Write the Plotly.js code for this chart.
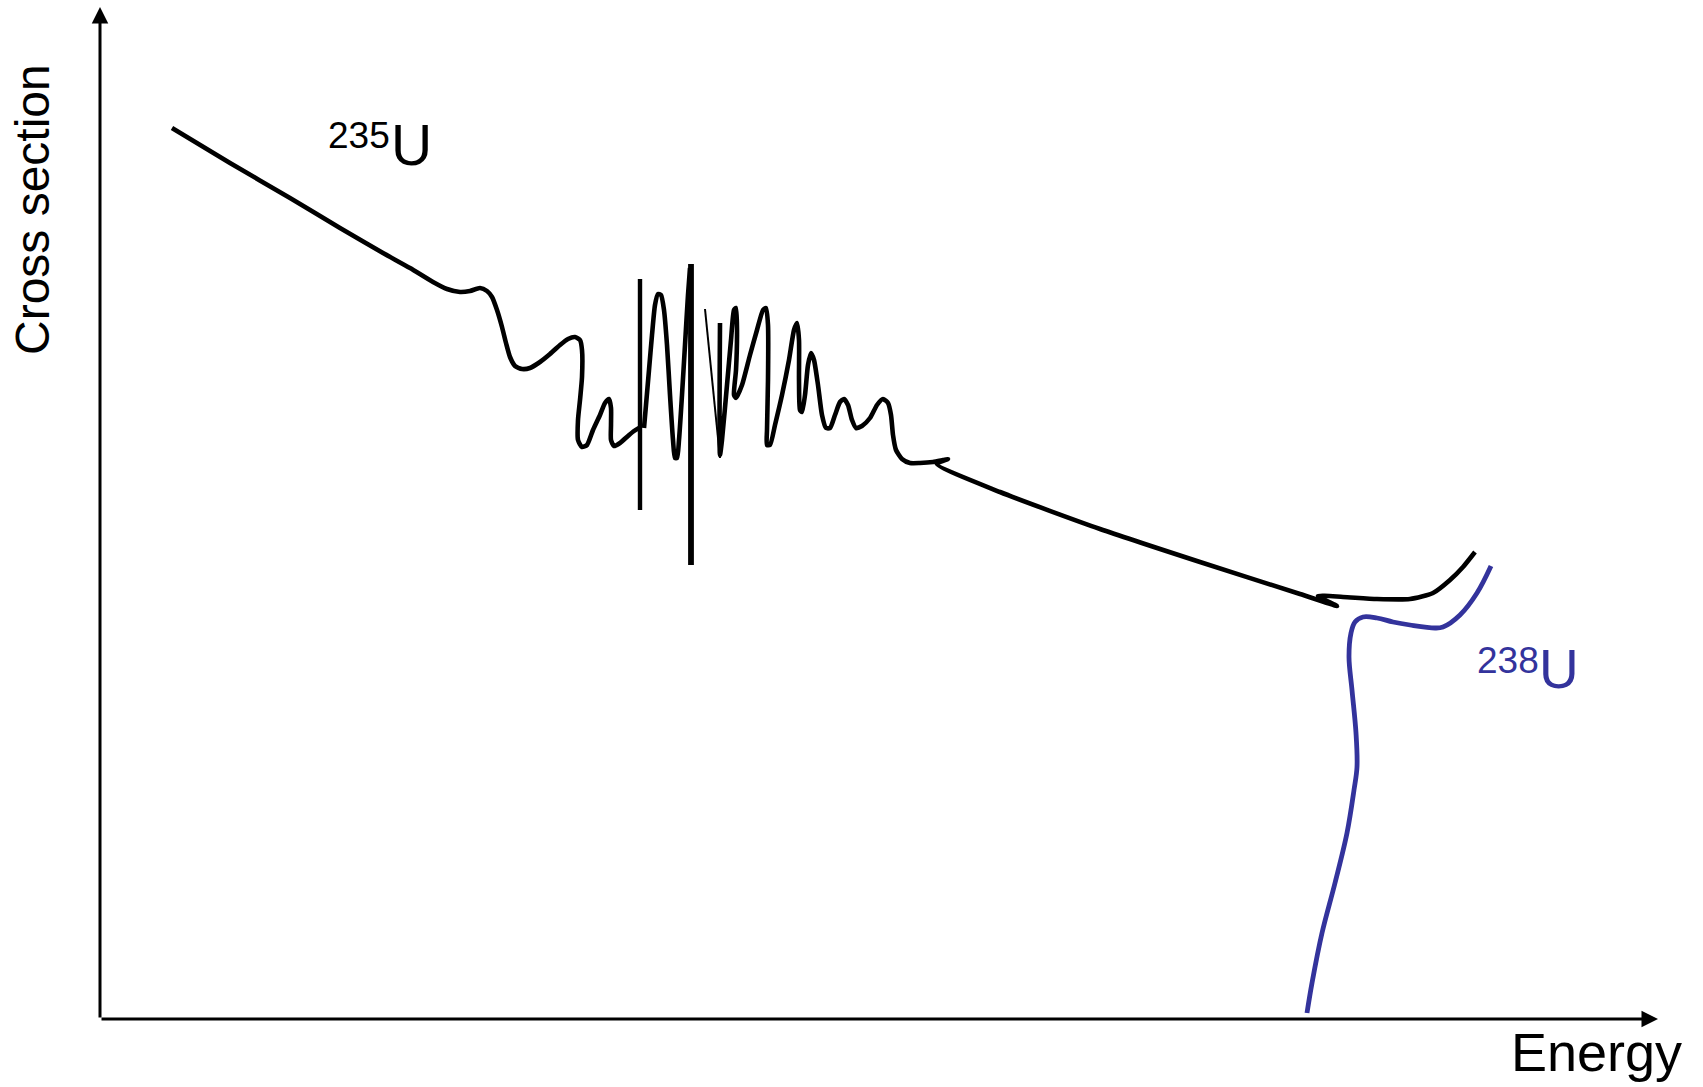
<!DOCTYPE html>
<html>
<head>
<meta charset="utf-8">
<script src="https://cdn.plot.ly/plotly-3.0.1.min.js"></script>
<style>html,body{margin:0;padding:0;background:#fff;}#chart{width:1703px;height:1087px;}</style>
</head>
<body>
<div id="chart"></div>
<script>
// 235U cross section (arbitrary units): smooth 1/v part + first resonances
const u235SmoothEnergy = [72,130,190,240,283,310,333,347,360,370,380,387,392,397,402,406,410,415,422,430,440,450,460,468,475,480,482,482,480,478,478,482,487,493,500,505,509,511,511,511,514,520,528,534,539];
const u235SmoothSigma  = [891,856,821,791,766,751,737,730,727,728,731,728,722,709,692,676,662,653,650,651,657,665,674,680,682,679,669,642,619,599,579,572,574,589,604,616,620,611,594,579,573,576,583,588,591];

// 235U sharp resonance spikes
const u235Spike1Energy = [540,540];
const u235Spike1Sigma  = [740,509];
const u235WaveEnergy = [544,546,549,552,555,558,561,564,567,570,573,575,577,579,582,585,588,590];
const u235WaveSigma  = [591,614,649,684,714,725,724,709,674,624,579,561,561,579,624,674,724,751];
const u235Spike2Energy = [591,591];
const u235Spike2Sigma  = [755,454];
const u235Spike3Energy = [605,620];
const u235Spike3Sigma  = [710,561];

// 235U upper resonances, unresolved region and fast region
const u235FastEnergy = [620,620,622,627,631,634,636,637,636,634,636,642,650,657,663,666,668,668,667,667,670,675,682,689,694,697,699,699,700,702,705,708,711,714,718,722,726,730,735,740,744,748,752,756,762,770,777,783,788,791,793,796,802,810,820,833,843,848,837,900,1000,1100,1200,1237,1218,1243,1277,1310,1333,1350,1363,1375];
const u235FastSigma  = [696,564,579,634,679,709,711,689,649,624,621,634,664,689,709,711,694,639,589,574,574,594,624,659,689,696,679,639,609,607,624,654,666,659,634,604,591,591,604,617,620,614,599,591,593,601,614,620,616,604,584,569,560,556,556,557,559,560,555,527,490,457,425,413,423,422,420,420,426,439,452,467];

// 238U (threshold fission) cross section
const u238Energy = [1391,1377,1360,1343,1335,1310,1293,1277,1263,1255,1251,1249,1252,1256,1257,1254,1247,1235,1222,1212,1207];
const u238Sigma  = [453,426,404,392,391,394,397,401,402,397,386,362,329,286,252,229,186,136,86,36,6];

const axisLabels = {x: 'Energy', y: 'Cross section'};
const isotopeLabels = {u235: ['235','U'], u238: ['238','U']};

const black = '#000000';
const blue = '#33339c';
const XR = 1603, YR = 1019;

function tr(x, y, w, col, shape, sm) {
  return {x: x, y: y, type: 'scatter', mode: 'lines', hoverinfo: 'skip',
    line: {color: col, width: w, shape: shape || 'linear', smoothing: sm || 0.6}};
}

const traces = [
  tr(u235SmoothEnergy, u235SmoothSigma, 4.6, black, 'spline'),
  tr(u235Spike1Energy, u235Spike1Sigma, 4.4, black),
  tr(u235WaveEnergy, u235WaveSigma, 4.6, black, 'spline'),
  tr(u235Spike2Energy, u235Spike2Sigma, 5.8, black),
  tr(u235Spike3Energy, u235Spike3Sigma, 2, black),
  tr(u235FastEnergy, u235FastSigma, 4.6, black, 'spline'),
  tr(u238Energy, u238Sigma, 4.8, blue, 'spline', 1)
];

const F = 'Liberation Sans, Arial, sans-serif';
function lab(x, y, text, size, col, angle) {
  return {x: x / XR, y: y / YR, xref: 'paper', yref: 'paper', xanchor: 'center', yanchor: 'middle',
    text: text, showarrow: false, textangle: angle || 0, font: {family: F, size: size, color: col}};
}
const annotations = [
  // axes with arrow heads
  {x: 0, y: 1012, ax: 0, ay: 0, axref: 'x', ayref: 'y', xref: 'x', yref: 'y', text: '', showarrow: true,
   arrowhead: 2, arrowsize: 1.1, arrowwidth: 3, arrowcolor: black, standoff: 0},
  {x: 1558, y: 0, ax: 0, ay: 0, axref: 'x', ayref: 'y', xref: 'x', yref: 'y', text: '', showarrow: true,
   arrowhead: 2, arrowsize: 1.1, arrowwidth: 3, arrowcolor: black, standoff: 0},
  lab(1496, -33, axisLabels.x, 54, black),
  lab(-68, 809, axisLabels.y, 48, black, -90),
  lab(259, 884, isotopeLabels.u235[0], 37, black),
  lab(311.5, 874, isotopeLabels.u235[1], 57, black),
  lab(1407.5, 359, isotopeLabels.u238[0], 37, blue),
  lab(1459, 350, isotopeLabels.u238[1], 55, blue)
];

const layout = {
  width: 1703, height: 1087,
  margin: {l: 100, r: 0, t: 0, b: 68, pad: 0},
  paper_bgcolor: '#ffffff', plot_bgcolor: '#ffffff',
  showlegend: false,
  xaxis: {range: [0, XR], visible: false, fixedrange: true},
  yaxis: {range: [0, YR], visible: false, fixedrange: true},
  annotations: annotations
};

Plotly.newPlot('chart', traces, layout, {displayModeBar: false, staticPlot: true});
</script>
</body>
</html>
